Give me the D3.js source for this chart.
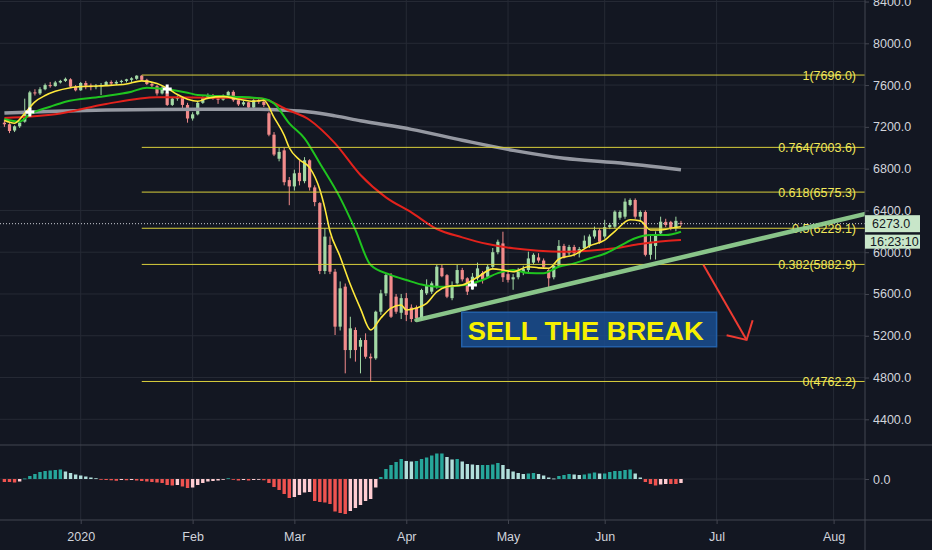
<!DOCTYPE html>
<html>
<head>
<meta charset="utf-8">
<script src="https://cdn.jsdelivr.net/npm/d3@7"></script>
<style>
  html, body { margin: 0; padding: 0; background: #131722; overflow: hidden; }
  svg { display: block; }
  text { font-family: "Liberation Sans", Arial, sans-serif; }
</style>
</head>
<body>
<svg id="chart" width="932" height="550"></svg>
<script>
// ---- data (UK100 daily) ----
const firstDay = "2019-12-09";
const lastDay = "2020-08-31";
const holidays = ["2019-12-25", "2019-12-26", "2020-01-01", "2020-04-10", "2020-04-13", "2020-05-08", "2020-05-25"];

const opens = [7240,7225,7165,7205,7250,7350,7530,7520,7560,7600,
  7590,7625,7640,7655,7585,7550,7620,7595,7580,7590,
  7600,7630,7615,7630,7640,7650,7660,7690,7650,7610,
  7590,7520,7530,7410,7470,7480,7410,7280,7320,7430,
  7480,7505,7470,7460,7500,7535,7455,7415,7435,7385,
  7455,7440,7330,7125,6895,6975,6690,6630,6760,6680,
  6880,6620,6470,5820,6069,5813,5287,5670,5063,5255,
  5095,5159,4999,4984,5430,5606,5781,5574,5420,5560,
  5470,5470,5367,5606,5622,5670,5850,5780,5560,5702,
  5829,5750,5720,5750,5800,5765,5860,6000,6084,5790,
  5740,5760,5810,5830,5900,5950,5920,5830,5760,5870,
  6060,5990,6050,5990,6040,6060,6150,6210,6150,6240,
  6244,6330,6340,6452,6500,6340,6385,5975,6060,6180,
  6290,6290,6230,6280];
const highs = [7270,7235,7215,7250,7470,7545,7560,7580,7615,7630,
  7640,7650,7672,7665,7600,7630,7640,7615,7610,7620,
  7640,7645,7645,7650,7660,7675,7694,7696,7660,7630,
  7600,7590,7540,7480,7500,7485,7430,7340,7440,7490,
  7520,7515,7490,7510,7545,7550,7465,7450,7440,7465,
  7475,7450,7345,7150,7000,7000,6720,6790,6880,6910,
  6890,6640,6480,6228,6150,5840,5720,5700,5382,5280,
  5180,5223,5030,5440,5640,5800,5800,5600,5600,5610,
  5500,5490,5650,5740,5720,5880,5880,5790,5720,5880,
  5850,5760,5800,5900,5820,5880,6040,6120,6196,5810,
  5790,5850,5870,6005,5990,5990,5940,5850,5890,6116,
  6080,6070,6070,6050,6160,6170,6245,6230,6310,6280,
  6400,6400,6515,6515,6515,6400,6400,6160,6200,6340,
  6320,6300,6340,6300];
const lows = [7200,7140,7150,7190,7240,7345,7500,7505,7550,7575,
  7585,7615,7630,7575,7540,7545,7560,7550,7560,7505,
  7590,7600,7600,7615,7625,7630,7650,7640,7600,7580,
  7500,7510,7400,7400,7450,7370,7240,7260,7310,7420,
  7465,7460,7420,7450,7490,7440,7400,7400,7370,7380,
  7420,7390,7110,6920,6870,6640,6450,6590,6640,6660,
  6590,6440,5790,5790,5790,5207,5250,4840,4984,4952,
  4840,4980,4762,4970,5400,5580,5370,5410,5360,5340,
  5330,5340,5350,5590,5600,5650,5760,5560,5540,5690,
  5720,5590,5640,5730,5700,5750,5840,5980,5715,5710,
  5640,5740,5780,5810,5880,5900,5840,5654,5740,5860,
  5940,5970,5960,5950,6030,6040,6130,6080,6130,6220,
  6230,6310,6320,6440,6320,6290,5960,5930,5930,6160,
  6240,6210,6200,6250];
const closes = [7225,7160,7205,7240,7350,7530,7520,7560,7600,7590,
  7625,7640,7660,7585,7550,7620,7595,7580,7590,7600,
  7630,7615,7630,7640,7655,7665,7690,7650,7610,7595,
  7520,7575,7410,7470,7480,7410,7280,7320,7430,7480,
  7505,7470,7460,7500,7535,7455,7415,7435,7385,7455,
  7440,7410,7125,6935,6960,6670,6630,6755,6680,6880,
  6620,6480,5820,6149,5813,5287,5654,5063,5271,5063,
  5159,4999,4984,5430,5606,5781,5382,5430,5560,5400,
  5360,5370,5638,5686,5702,5861,5770,5574,5686,5829,
  5740,5622,5765,5845,5740,5861,6000,6100,5760,5735,
  5760,5830,5840,5940,5975,5920,5860,5750,5870,6060,
  5950,6050,5990,6030,6110,6150,6210,6100,6240,6260,
  6388,6385,6484,6500,6340,6385,5975,6100,6170,6292,
  6260,6230,6300,6273];

// moving averages, [bar index, value]
const maFast = [[0,7260],[2,7235],[4,7330],[6,7440],[8,7500],[10,7540],[13,7575],[16,7588],[20,7595],
  [24,7610],[27,7640],[30,7615],[32,7570],[34,7510],[36,7465],[38,7445],[40,7475],[43,7489],[46,7465],
  [49,7445],[51,7455],[53,7290],[55,7120],[56,7000],[58,6885],[60,6810],[62,6600],[63,6420],[64,6200],
  [66,5957],[68,5690],[70,5460],[72,5255],[74,5370],[76,5465],[78,5494],[79,5446],[81,5465],[83,5510],
  [85,5620],[87,5670],[90,5686],[93,5760],[96,5840],[98,5830],[100,5813],[103,5861],[105,5850],[107,5846],
  [109,5935],[112,5975],[115,6060],[118,6115],[120,6200],[123,6310],[125,6300],[127,6213],[129,6213],
  [131,6230],[133,6244]];
const maMid = [[0,7275],[3,7250],[5,7320],[9,7393],[12,7441],[19,7489],[25,7537],[28,7575],[32,7560],
  [36,7527],[38,7505],[45,7489],[51,7470],[53,7425],[56,7234],[59,7090],[62,6851],[66,6520],[69,6213],
  [72,5877],[76,5781],[79,5734],[82,5690],[85,5670],[88,5675],[91,5690],[94,5734],[97,5800],[100,5829],
  [103,5800],[106,5798],[109,5861],[112,5893],[115,5940],[118,5985],[121,6060],[124,6133],[127,6164],
  [130,6164],[133,6196]];
const maSlow = [[0,7285],[10,7320],[20,7419],[30,7483],[40,7479],[50,7473],[53,7430],[55,7378],[60,7266],
  [65,7042],[70,6739],[75,6525],[80,6381],[85,6222],[90,6142],[95,6078],[100,6037],[105,6014],[110,6005],
  [115,6014],[120,6037],[125,6078],[130,6107],[133,6116]];
const ma200 = [[0,7332],[10,7350],[20,7361],[30,7366],[40,7368],[50,7368],[55,7360],[60,7343],[65,7305],
  [70,7258],[80,7176],[90,7072],[100,6975],[110,6900],[120,6858],[133,6790]];

const macdHist = [-12,-12,-14,-10,2,12,20,28,32,34,36,38,30,24,18,14,10,6,3,-2,
  -4,-5,-7,-4,-5,-4,-6,-8,-10,-12,-14,-16,-24,-26,-24,-30,-36,-34,-24,-16,
  -10,-8,-6,-3,3,-2,-6,-4,-6,-4,-3,-5,-16,-32,-44,-60,-76,-72,-64,-54,
  -52,-88,-92,-94,-100,-130,-136,-140,-128,-116,-104,-88,-80,-34,8,40,56,68,80,72,
  70,72,80,86,94,102,102,88,78,80,70,60,58,56,56,56,58,64,56,40,
  30,24,20,22,24,20,14,6,2,12,16,20,18,16,18,22,26,22,22,28,
  32,32,36,38,22,6,-12,-20,-26,-22,-20,-20,-20,-16];

const priceTicks = [4400, 4800, 5200, 5600, 6000, 6400, 6800, 7200, 7600, 8000, 8400];
const fibRatios = ["1", "0.764", "0.618", "0.5", "0.382", "0"];
const fibLevels = [7696.0, 7003.6, 6575.3, 6229.1, 5882.9, 4762.2];
const fibStart = 27;
const crossMarks = [[5, 7342], [32, 7562], [92, 5686]];
const trendLine = [[81, 5350], [170, 6375]];
const arrowLine = [[137.4, 5880], [145.9, 5160]];
const noteBox = [[89.9, 5425], [140.0, 5095]];
const noteText = "SELL THE BREAK";
const lastPrice = 6273.0;
const countdown = "16:23:10";

// ---- layout ----
const W = 932, axisX = 865, paneBottom = 445, timeY = 520;
const bg = "#131722", gridColor = "#262a35", borderColor = "#434651", textColor = "#d1d4dc";

const parse = d3.timeParse("%Y-%m-%d"), key = d3.timeFormat("%Y-%m-%d");
const skip = new Set(holidays);
const days = d3.timeDay.range(parse(firstDay), d3.timeDay.offset(parse(lastDay), 1))
  .filter(d => d.getDay() !== 0 && d.getDay() !== 6 && !skip.has(key(d)));

const monthTicks = d3.timeMonth.range(new Date(2020, 0, 1), new Date(2020, 8, 1))
  .map(m => days.findIndex(d => d >= m));
const monthLabel = i => days[i].getMonth() === 0 ? "2020" : d3.timeFormat("%b")(days[i]);

const x = d3.scaleLinear().domain([0, 163]).range([4.4, 833.6]);
const y = d3.scaleLinear().domain([4400, 8000]).range([419.3, 43.3]);
const yM = d3.scaleLinear().domain([-164, 136]).range([timeY, paneBottom]);

const svg = d3.select("#chart");
svg.append("rect").attr("width", W).attr("height", 550).attr("fill", bg);

const defs = svg.append("defs");
defs.append("clipPath").attr("id", "pricePane")
  .append("rect").attr("x", 0).attr("y", 0).attr("width", axisX).attr("height", paneBottom);
defs.append("marker").attr("id", "head")
  .attr("markerUnits", "userSpaceOnUse").attr("orient", "auto")
  .attr("viewBox", "-20 -20 30 40").attr("markerWidth", 30).attr("markerHeight", 40)
  .attr("refX", 0).attr("refY", 0)
  .append("path").attr("d", "M-14,-15L0,0L-14,15")
  .attr("fill", "none").attr("stroke", "#ef3b32").attr("stroke-width", 2);

// grid
const grid = svg.append("g");
grid.selectAll(".hg").data(priceTicks).enter().append("line")
  .attr("x1", 0).attr("x2", axisX).attr("y1", d => y(d)).attr("y2", d => y(d))
  .attr("stroke", gridColor);
grid.append("line").attr("x1", 0).attr("x2", axisX).attr("y1", yM(0)).attr("y2", yM(0)).attr("stroke", gridColor);
grid.selectAll(".vg").data(monthTicks).enter().append("line")
  .attr("x1", d => x(d)).attr("x2", d => x(d)).attr("y1", 0).attr("y2", timeY)
  .attr("stroke", gridColor);

// candles
const bars = d3.range(closes.length);
const upCol = "#a3d9a5", downCol = "#f28b8b";
const candles = svg.append("g").attr("clip-path", "url(#pricePane)");
candles.selectAll(".wick").data(bars).enter().append("line")
  .attr("x1", i => x(i)).attr("x2", i => x(i))
  .attr("y1", i => y(highs[i])).attr("y2", i => y(lows[i]))
  .attr("stroke", i => closes[i] >= opens[i] ? upCol : downCol).attr("stroke-width", 1);
candles.selectAll(".body").data(bars).enter().append("rect")
  .attr("x", i => x(i) - 1.6).attr("width", 3.2)
  .attr("y", i => y(Math.max(opens[i], closes[i])))
  .attr("height", i => Math.max(1, Math.abs(y(opens[i]) - y(closes[i]))))
  .attr("fill", i => closes[i] >= opens[i] ? upCol : downCol);

// moving averages
const line = d3.line().x(d => x(d[0])).y(d => y(d[1])).curve(d3.curveMonotoneX);
const mas = [[ma200, "#9598a1", 3.5], [maSlow, "#e3221c", 2], [maMid, "#1fc41f", 2], [maFast, "#ffe93b", 1.6]];
candles.selectAll(".ma").data(mas).enter().append("path")
  .attr("d", d => line(d[0])).attr("fill", "none")
  .attr("stroke", d => d[1]).attr("stroke-width", d => d[2]).attr("stroke-linejoin", "round");

candles.selectAll(".cross").data(crossMarks).enter().append("path")
  .attr("transform", d => `translate(${x(d[0])},${y(d[1])})`)
  .attr("d", d3.symbol(d3.symbolCross).size(45)).attr("fill", "#ffffff");

// fib levels
const fib = svg.append("g");
fib.selectAll("line").data(fibLevels).enter().append("line")
  .attr("x1", x(fibStart)).attr("x2", axisX).attr("y1", d => y(d)).attr("y2", d => y(d))
  .attr("stroke", "#d9cf3c").attr("stroke-width", 1);
fib.selectAll("text").data(fibLevels).enter().append("text")
  .attr("x", 856).attr("y", d => y(d)).attr("dy", "0.36em").attr("text-anchor", "end")
  .attr("font-size", 12.5).attr("fill", "#f2e85a")
  .text((d, i) => `${fibRatios[i]}(${d.toFixed(1)})`);

// last price dotted line
svg.append("line").attr("x1", 0).attr("x2", axisX).attr("y1", y(lastPrice)).attr("y2", y(lastPrice))
  .attr("stroke", "#c9ccd4").attr("stroke-dasharray", "1,2").attr("stroke-width", 1);

// drawings
svg.append("path").attr("clip-path", "url(#pricePane)")
  .attr("d", d3.line().x(d => x(d[0])).y(d => y(d[1]))(trendLine))
  .attr("stroke", "#8fce8f").attr("stroke-width", 4.5).attr("stroke-linecap", "round")
  .attr("fill", "none").attr("opacity", 0.95);
svg.append("path")
  .attr("d", d3.line().x(d => x(d[0])).y(d => y(d[1]))(arrowLine))
  .attr("stroke", "#ef3b32").attr("stroke-width", 2).attr("fill", "none")
  .attr("marker-end", "url(#head)");

const bx0 = x(noteBox[0][0]), bx1 = x(noteBox[1][0]), by0 = y(noteBox[0][1]), by1 = y(noteBox[1][1]);
svg.append("rect").attr("x", bx0).attr("y", by0).attr("width", bx1 - bx0).attr("height", by1 - by0)
  .attr("fill", "#1a4f94").attr("fill-opacity", 0.82).attr("stroke", "#2360a8").attr("stroke-width", 1.5);
svg.append("text").attr("x", bx0 + 6).attr("y", (by0 + by1) / 2 + 1).attr("dy", "0.36em")
  .attr("textLength", 236).attr("lengthAdjust", "spacingAndGlyphs")
  .style("font-family", "'Liberation Sans', Arial, sans-serif").attr("font-weight", "bold")
  .attr("font-size", 26).attr("fill", "#f6f000").text(noteText);

// MACD histogram
const histColor = i => {
  const v = macdHist[i], p = i > 0 ? macdHist[i - 1] : v;
  if (v >= 0) return v >= p ? "#26a69a" : "#b2dfdb";
  return v <= p ? "#ef5350" : "#ffcdd2";
};
svg.append("g").selectAll("rect").data(bars).enter().append("rect")
  .attr("x", i => x(i) - 1.7).attr("width", 3.4)
  .attr("y", i => Math.min(yM(0), yM(macdHist[i])))
  .attr("height", i => Math.max(0.8, Math.abs(yM(macdHist[i]) - yM(0))))
  .attr("fill", histColor);

// borders
svg.append("line").attr("x1", 0).attr("x2", W).attr("y1", paneBottom).attr("y2", paneBottom).attr("stroke", borderColor);
svg.append("line").attr("x1", 0).attr("x2", W).attr("y1", timeY).attr("y2", timeY).attr("stroke", borderColor);
svg.append("line").attr("x1", axisX).attr("x2", axisX).attr("y1", 0).attr("y2", 550).attr("stroke", borderColor);

// axes
const styleAxis = g => {
  g.select(".domain").remove();
  g.selectAll("line").attr("stroke", borderColor);
  g.selectAll("text").attr("fill", textColor).style("font-family", "'Liberation Sans', Arial, sans-serif");
};
svg.append("g").attr("transform", `translate(${axisX},0)`)
  .call(d3.axisRight(y).tickValues(priceTicks).tickFormat(d3.format(".1f")).tickSize(4).tickPadding(4))
  .attr("font-size", 12.5).call(styleAxis);
svg.append("g").attr("transform", `translate(${axisX},0)`)
  .call(d3.axisRight(yM).tickValues([0]).tickFormat(d3.format(".1f")).tickSize(4).tickPadding(4))
  .attr("font-size", 12.5).call(styleAxis);
svg.append("g").attr("transform", `translate(0,${timeY})`)
  .call(d3.axisBottom(x).tickValues(monthTicks).tickFormat(monthLabel).tickSize(4).tickPadding(8))
  .attr("font-size", 12.5).call(styleAxis);

// price / countdown tags
const tagY = y(lastPrice);
svg.append("rect").attr("x", axisX).attr("y", tagY - 8.5).attr("width", 55).attr("height", 17).attr("fill", "#c8e6c9");
svg.append("text").attr("x", axisX + 7).attr("y", tagY).attr("dy", "0.36em")
  .attr("font-size", 12.5).attr("fill", "#131722").text(lastPrice.toFixed(1));
svg.append("rect").attr("x", axisX).attr("y", tagY + 11).attr("width", 55).attr("height", 14).attr("fill", "#c8e6c9");
svg.append("text").attr("x", axisX + 5).attr("y", tagY + 18).attr("dy", "0.36em")
  .attr("font-size", 12.5).attr("fill", "#131722").text(countdown);
</script>
</body>
</html>
